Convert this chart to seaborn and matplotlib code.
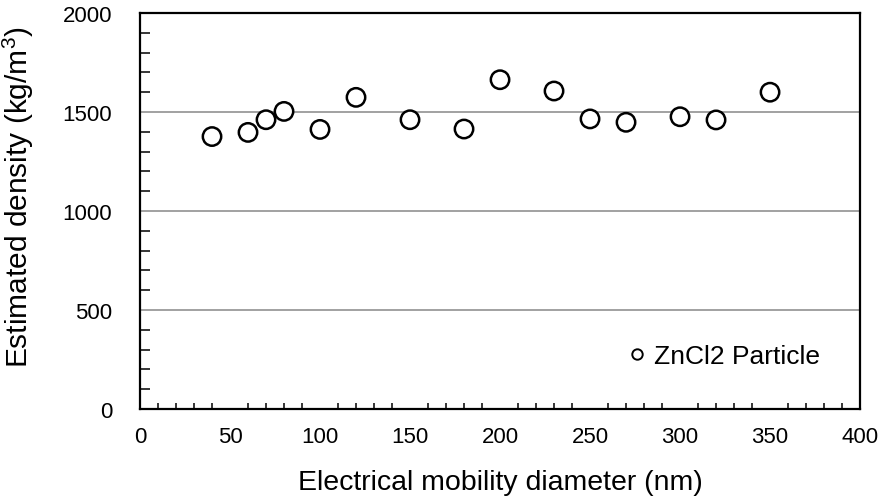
import matplotlib
matplotlib.use("Agg")
import matplotlib.pyplot as plt
import seaborn as sns
import pandas as pd
from matplotlib.ticker import MultipleLocator

diameter = [40, 60, 70, 80, 100, 120, 150, 180, 200, 230, 250, 270, 300, 320, 350]
density = [1376, 1397, 1461, 1503, 1412, 1574, 1461, 1414, 1663, 1606, 1465, 1448, 1476, 1460, 1600]
series_name = "ZnCl2 Particle"
x_label = "Electrical mobility diameter (nm)"
y_label = "Estimated density (kg/m$^3$)"

df = pd.DataFrame({"d": diameter, "rho": density, "s": [series_name] * len(diameter)})

sns.set_style("white")
plt.rcParams["font.family"] = ["Liberation Sans", "DejaVu Sans"]
plt.rcParams["mathtext.fontset"] = "custom"
plt.rcParams["mathtext.rm"] = "Liberation Sans"
plt.rcParams["text.color"] = "black"
plt.rcParams["axes.labelcolor"] = "black"
plt.rcParams["xtick.color"] = "black"
plt.rcParams["ytick.color"] = "black"

fig = plt.figure(figsize=(8.85, 5.02), dpi=100)
ax = fig.add_axes([0.1582, 0.1833, 0.8136, 0.7888])

for yv in [500, 1000, 1500]:
    ax.axhline(yv, color="#9a9a9a", lw=1.3, zorder=0)

sns.scatterplot(data=df, x="d", y="rho", hue="s", palette=["white"], marker="o",
                s=175, edgecolor="black", linewidth=1.8, ax=ax, zorder=3)

ax.set_xlim(0, 400)
ax.set_ylim(0, 2000)
ax.xaxis.set_major_locator(MultipleLocator(50))
ax.xaxis.set_minor_locator(MultipleLocator(10))
ax.yaxis.set_major_locator(MultipleLocator(500))
ax.yaxis.set_minor_locator(MultipleLocator(100))

ax.tick_params(axis="x", which="major", direction="in", length=9, width=1.3, labelsize=16, pad=12, top=False)
ax.tick_params(axis="x", which="minor", direction="in", length=4.5, width=1.1, top=False, bottom=True)
ax.tick_params(axis="y", which="major", direction="in", length=7, width=1.1, labelsize=16, pad=20, right=False)
ax.tick_params(axis="y", which="minor", direction="in", length=7, width=1.1, left=True, right=False)

for sp in ax.spines.values():
    sp.set_color("black")
    sp.set_linewidth(1.6)
    sp.set_visible(True)

ax.set_xlabel(x_label, fontsize=20.5, labelpad=16)
ax.set_ylabel(y_label, fontsize=21.5)
ax.yaxis.set_label_coords(-0.1445, 0.538)

leg = ax.legend(loc="center right", bbox_to_anchor=(0.945, 0.134), frameon=False, fontsize=19,
                handletextpad=0.15, handlelength=1.0, borderaxespad=0, borderpad=0)
for h in leg.legend_handles:
    h.set_markeredgecolor("black")
    h.set_markerfacecolor("white")
    h.set_markeredgewidth(1.4)
    h.set_markersize(7.5)

fig.savefig("out.png", dpi=100)
